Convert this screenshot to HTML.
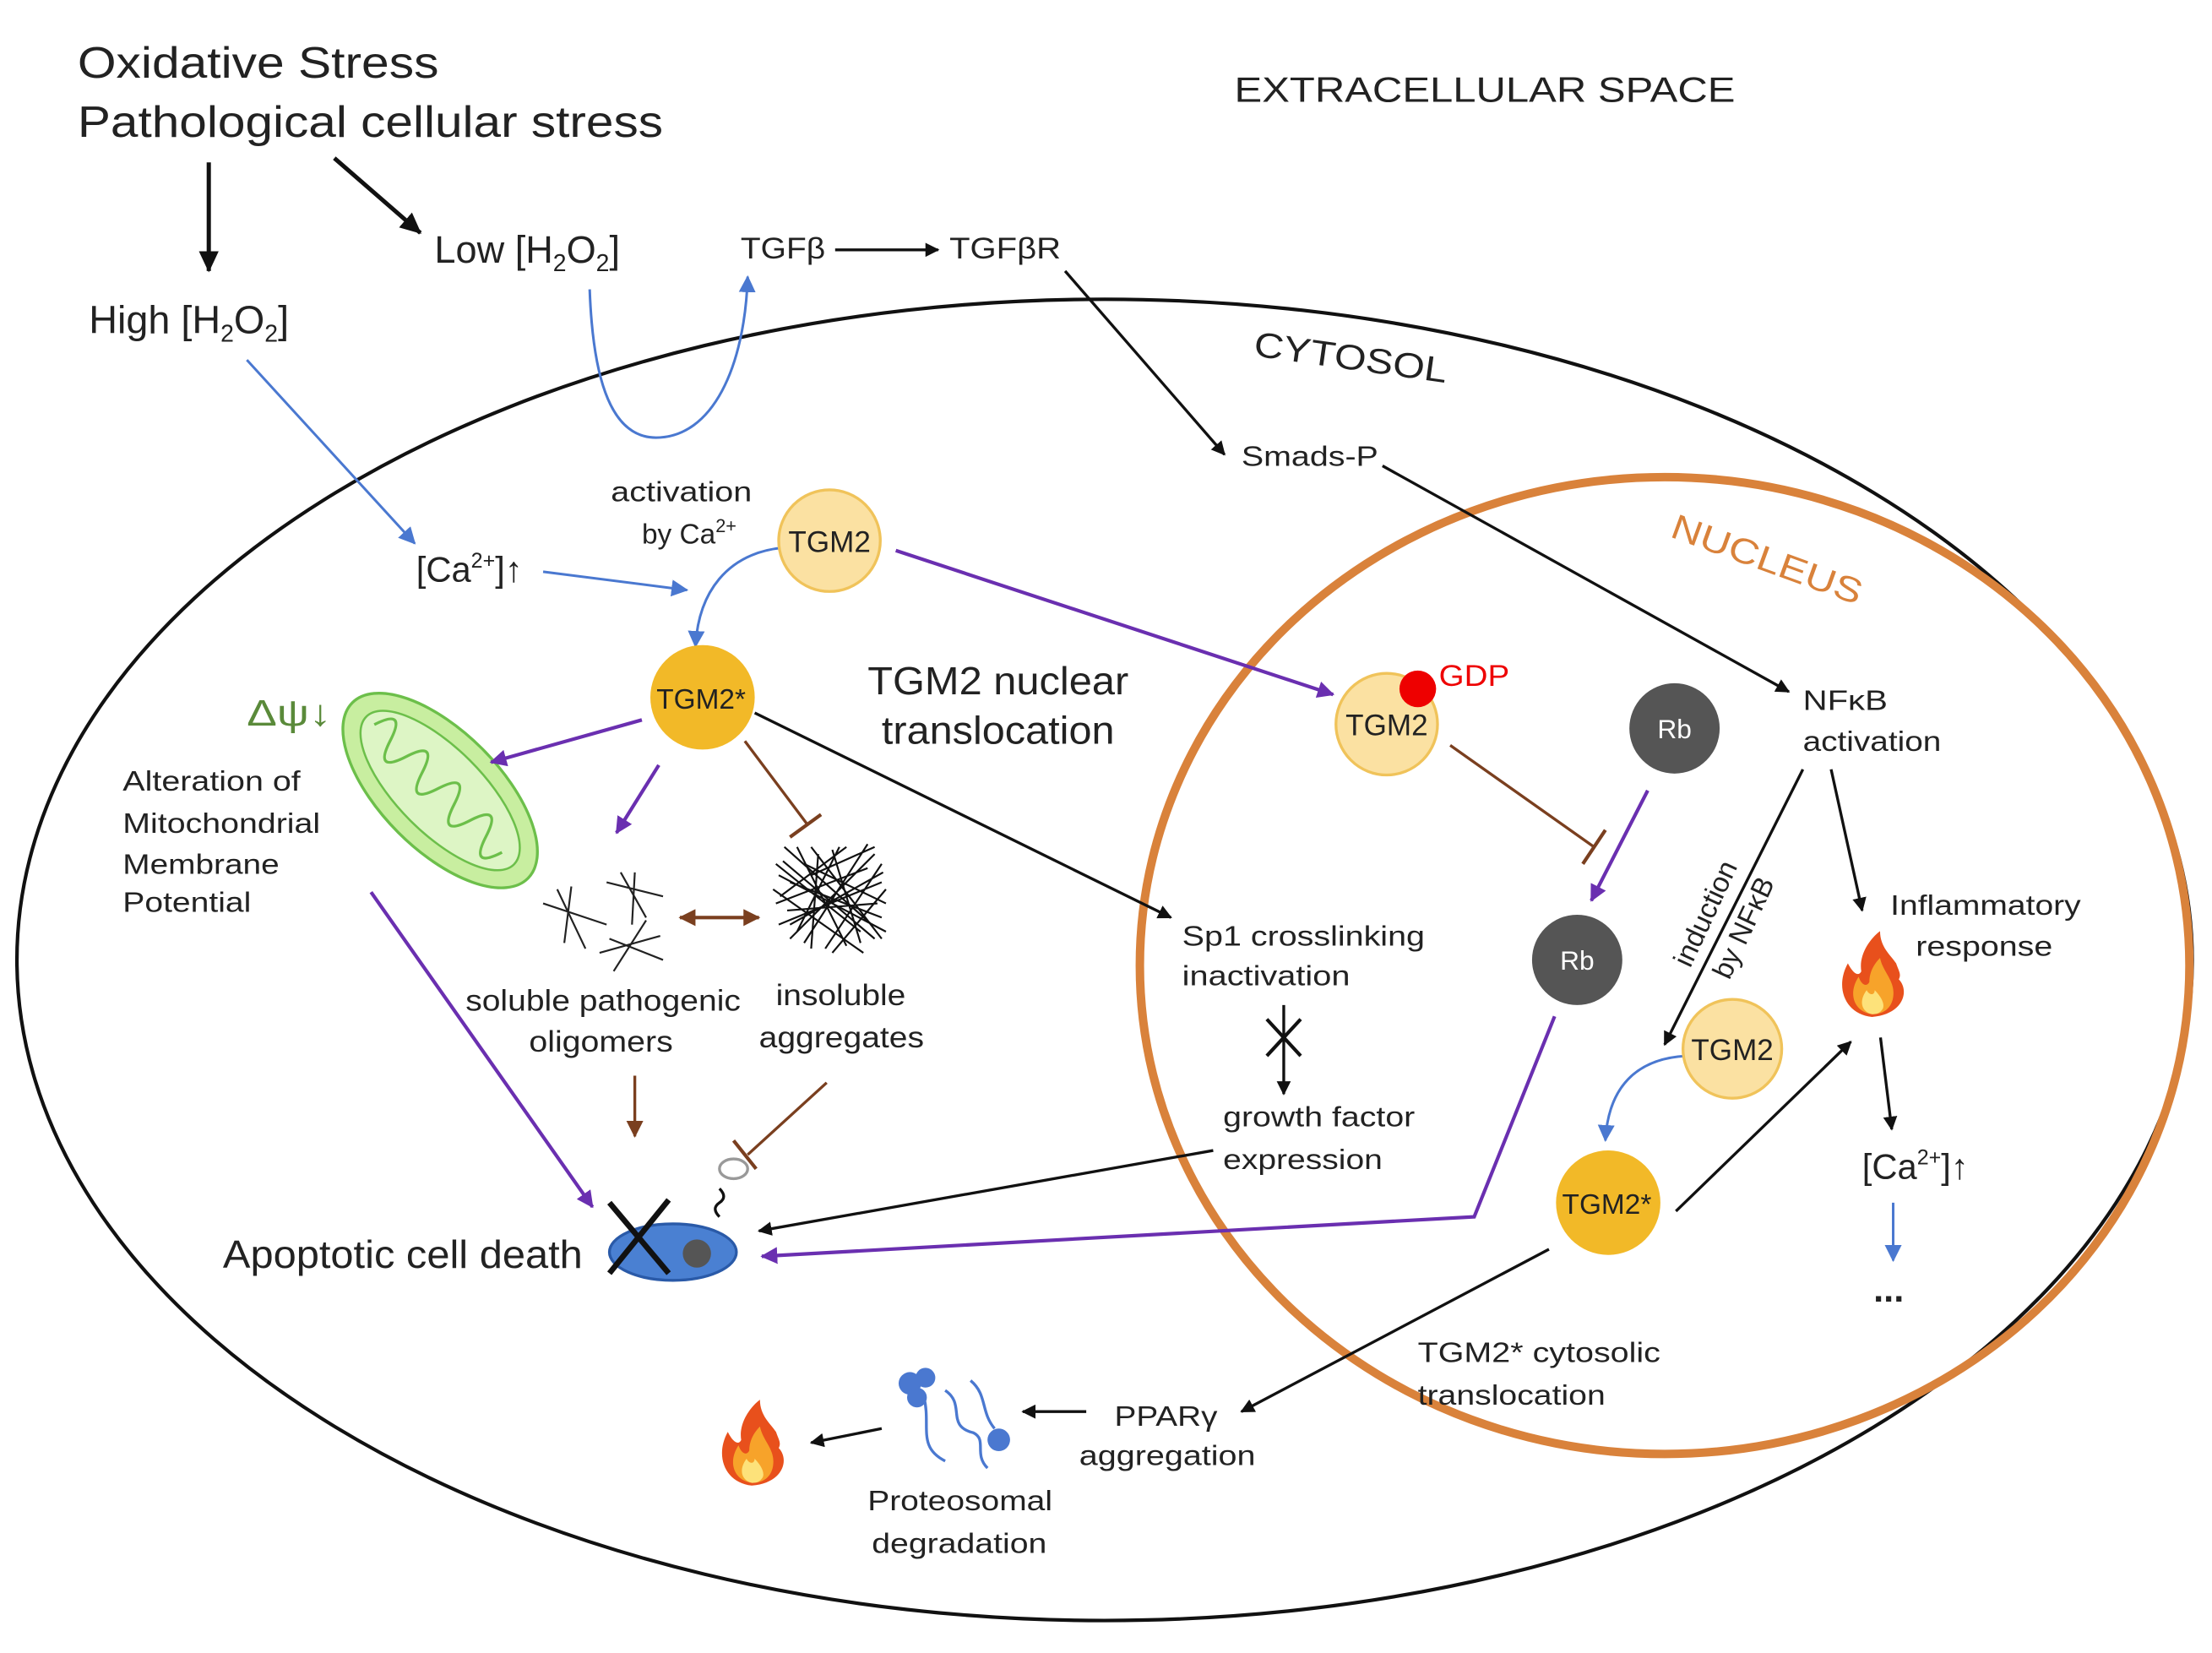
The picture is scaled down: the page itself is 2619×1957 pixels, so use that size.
<!DOCTYPE html>
<html><head><meta charset="utf-8"><style>
html,body{margin:0;padding:0;background:#fff;}
svg{display:block;}
text{font-family:"Liberation Sans",Arial,sans-serif;fill:#222;}
</style></head><body>
<svg width="2619" height="1957" viewBox="0 0 1568 1171" preserveAspectRatio="none" xmlns="http://www.w3.org/2000/svg">
<defs>
<marker id="ak" markerWidth="10" markerHeight="10" refX="9" refY="5" orient="auto" markerUnits="userSpaceOnUse"><path d="M0,0 L10,5 L0,10 z" fill="#111"/></marker>
<marker id="akb" markerWidth="16" markerHeight="16" refX="14" refY="8" orient="auto" markerUnits="userSpaceOnUse"><path d="M0,1 L15,8 L0,15 z" fill="#111"/></marker>
<marker id="ab" markerWidth="12" markerHeight="12" refX="11" refY="6" orient="auto" markerUnits="userSpaceOnUse"><path d="M0,0 L12,6 L0,12 z" fill="#4a78d0"/></marker>
<marker id="ap" markerWidth="12" markerHeight="12" refX="11" refY="6" orient="auto" markerUnits="userSpaceOnUse"><path d="M0,0 L12,6 L0,12 z" fill="#6a2fb0"/></marker>
<marker id="abr" markerWidth="12" markerHeight="12" refX="11" refY="6" orient="auto" markerUnits="userSpaceOnUse"><path d="M0,0 L12,6 L0,12 z" fill="#7a3f1f"/></marker>
<marker id="abrs" markerWidth="12" markerHeight="12" refX="1" refY="6" orient="auto" markerUnits="userSpaceOnUse"><path d="M12,0 L0,6 L12,12 z" fill="#7a3f1f"/></marker>
<g id="fire">
<path d="M0,32 C-20,30 -28,10 -18,-8 C-14,0 -10,2 -8,-2 C-10,-14 -2,-26 6,-32 C6,-20 14,-14 18,-8 C20,-2 22,0 20,4 C28,12 24,30 0,32 z" fill="#e8501c"/>
<path d="M0,30 C-14,28 -18,14 -10,2 C-8,8 -4,10 -2,6 C-2,-2 2,-8 6,-12 C8,-2 16,4 16,14 C16,24 10,30 0,30 z" fill="#f7a32a"/>
<path d="M0,30 C-8,28 -10,20 -4,12 C-2,16 2,16 2,12 C6,16 10,22 8,26 C6,29 4,30 0,30 z" fill="#fde27a"/>
</g>
</defs>

<ellipse cx="783" cy="680" rx="771" ry="468" fill="none" stroke="#111" stroke-width="2.5"/>
<ellipse cx="1180" cy="684" rx="372" ry="346" fill="none" stroke="#d9823b" stroke-width="6"/>

<text x="55" y="55" font-size="31" textLength="256" lengthAdjust="spacingAndGlyphs">Oxidative Stress</text>
<text x="55" y="97" font-size="31" textLength="415" lengthAdjust="spacingAndGlyphs">Pathological cellular stress</text>
<text x="875" y="72" font-size="25" textLength="355" lengthAdjust="spacingAndGlyphs">EXTRACELLULAR SPACE</text>

<line x1="148" y1="115" x2="148" y2="192" stroke="#111" stroke-width="3" marker-end="url(#akb)"/>
<line x1="237" y1="112" x2="298" y2="165" stroke="#111" stroke-width="3" marker-end="url(#akb)"/>
<text x="308" y="186" font-size="27">Low [H<tspan font-size="17" dy="6">2</tspan><tspan dy="-6">O</tspan><tspan font-size="17" dy="6">2</tspan><tspan dy="-6">]</tspan></text>
<text x="63" y="236" font-size="28">High [H<tspan font-size="17" dy="6">2</tspan><tspan dy="-6">O</tspan><tspan font-size="17" dy="6">2</tspan><tspan dy="-6">]</tspan></text>

<text x="525" y="183" font-size="21" textLength="60" lengthAdjust="spacingAndGlyphs">TGFβ</text>
<line x1="592" y1="177" x2="665" y2="177" stroke="#111" stroke-width="2" marker-end="url(#ak)"/>
<text x="673" y="183" font-size="21" textLength="79" lengthAdjust="spacingAndGlyphs">TGFβR</text>

<text x="888" y="252" font-size="25" transform="rotate(8 888 252)" textLength="138" lengthAdjust="spacingAndGlyphs">CYTOSOL</text>

<path d="M418,205 C420,260 430,310 465,310 C505,310 528,260 530,196" fill="none" stroke="#4a78d0" stroke-width="1.8" marker-end="url(#ab)"/>
<line x1="175" y1="255" x2="294" y2="385" stroke="#4a78d0" stroke-width="1.8" marker-end="url(#ab)"/>
<text x="295" y="412" font-size="25">[Ca<tspan font-size="15" dy="-10">2+</tspan><tspan dy="10">]↑</tspan></text>
<line x1="385" y1="405" x2="487" y2="418" stroke="#4a78d0" stroke-width="1.8" marker-end="url(#ab)"/>

<text x="433" y="355" font-size="20" textLength="100" lengthAdjust="spacingAndGlyphs">activation</text>
<text x="455" y="385" font-size="20">by Ca<tspan font-size="13" dy="-8">2+</tspan></text>

<line x1="755" y1="192" x2="868" y2="322" stroke="#111" stroke-width="2" marker-end="url(#ak)"/>
<text x="880" y="330" font-size="20" textLength="97" lengthAdjust="spacingAndGlyphs">Smads-P</text>
<line x1="980" y1="330" x2="1268" y2="490" stroke="#111" stroke-width="2" marker-end="url(#ak)"/>
<text x="1183" y="380" font-size="25" style="fill:#d9823b" transform="rotate(20 1183 380)" textLength="142" lengthAdjust="spacingAndGlyphs">NUCLEUS</text>
<text x="1278" y="503" font-size="20" textLength="60" lengthAdjust="spacingAndGlyphs">NFκB</text>
<text x="1278" y="532" font-size="20" textLength="98" lengthAdjust="spacingAndGlyphs">activation</text>

<path d="M555,388 C515,392 495,420 493,458" fill="none" stroke="#4a78d0" stroke-width="1.8" marker-end="url(#ab)"/>
<line x1="635" y1="390" x2="945" y2="492" stroke="#6a2fb0" stroke-width="2.5" marker-end="url(#ap)"/>
<circle cx="588" cy="383" r="36" fill="#fbe1a2" stroke="#f0c35a" stroke-width="2"/>
<text x="588" y="391" font-size="21" text-anchor="middle">TGM2</text>
<circle cx="498" cy="494" r="37" fill="#f2b928"/>
<text x="497" y="502" font-size="20" text-anchor="middle">TGM2*</text>

<text x="615" y="492" font-size="28" textLength="185" lengthAdjust="spacingAndGlyphs">TGM2 nuclear</text>
<text x="625" y="527" font-size="28" textLength="165" lengthAdjust="spacingAndGlyphs">translocation</text>

<circle cx="983" cy="513" r="36" fill="#fbe1a2" stroke="#f0c35a" stroke-width="2"/>
<text x="983" y="521" font-size="21" text-anchor="middle">TGM2</text>
<circle cx="1005" cy="488" r="13" fill="#e00"/>
<text x="1020" y="486" font-size="21" style="fill:#e00" textLength="50" lengthAdjust="spacingAndGlyphs">GDP</text>
<line x1="1028" y1="528" x2="1130" y2="600" stroke="#7a3f1f" stroke-width="2"/>
<line x1="1122" y1="612" x2="1138" y2="588" stroke="#7a3f1f" stroke-width="2.5"/>

<circle cx="1187" cy="516" r="32" fill="#555"/>
<text x="1187" y="523" font-size="19" text-anchor="middle" style="fill:#fff">Rb</text>
<line x1="1168" y1="560" x2="1128" y2="638" stroke="#6a2fb0" stroke-width="2.5" marker-end="url(#ap)"/>
<circle cx="1118" cy="680" r="32" fill="#555"/>
<text x="1118" y="687" font-size="19" text-anchor="middle" style="fill:#fff">Rb</text>

<g transform="rotate(45 312 560)">
<ellipse cx="312" cy="560" rx="88" ry="42" fill="#c8eea0" stroke="#6cbf4a" stroke-width="2"/>
<ellipse cx="312" cy="560" rx="74" ry="30" fill="#ddf5c5" stroke="#6cbf4a" stroke-width="1.5"/>
<path d="M246,560 q8,-25 16,0 q8,25 16,0 q8,-25 16,0 q8,25 16,0 q8,-25 16,0 q8,25 16,0 q8,-25 16,0 q8,25 16,0" fill="none" stroke="#6cbf4a" stroke-width="2"/>
</g>
<text x="175" y="514" font-size="26" style="fill:#5a8a3a" textLength="60" lengthAdjust="spacingAndGlyphs">Δψ↓</text>
<text x="87" y="560" font-size="20" textLength="126" lengthAdjust="spacingAndGlyphs">Alteration of</text>
<text x="87" y="590" font-size="20" textLength="140" lengthAdjust="spacingAndGlyphs">Mitochondrial</text>
<text x="87" y="619" font-size="20" textLength="111" lengthAdjust="spacingAndGlyphs">Membrane</text>
<text x="87" y="646" font-size="20" textLength="91" lengthAdjust="spacingAndGlyphs">Potential</text>

<line x1="455" y1="510" x2="348" y2="540" stroke="#6a2fb0" stroke-width="2.5" marker-end="url(#ap)"/>
<line x1="467" y1="542" x2="437" y2="590" stroke="#6a2fb0" stroke-width="2.5" marker-end="url(#ap)"/>
<line x1="528" y1="525" x2="573" y2="585" stroke="#7a3f1f" stroke-width="2"/>
<line x1="560" y1="593" x2="582" y2="577" stroke="#7a3f1f" stroke-width="2.5"/>
<line x1="535" y1="505" x2="830" y2="650" stroke="#111" stroke-width="2" marker-end="url(#ak)"/>

<g stroke="#222" stroke-width="1.3">
<line x1="385" y1="640" x2="430" y2="655"/><line x1="395" y1="630" x2="415" y2="672"/><line x1="405" y1="628" x2="400" y2="668"/>
<line x1="430" y1="625" x2="470" y2="635"/><line x1="440" y1="618" x2="458" y2="650"/><line x1="450" y1="618" x2="448" y2="655"/>
<line x1="425" y1="675" x2="468" y2="663"/><line x1="435" y1="688" x2="458" y2="652"/><line x1="432" y1="665" x2="470" y2="680"/>
</g>
<g stroke="#111" stroke-width="1.3">
<path d="M555,610 L620,665 M560,625 L625,650 M550,640 L615,615 M565,600 L600,670 M580,605 L575,672 M590,602 L610,668 M552,655 L625,625 M560,665 L620,605 M570,612 L628,640 M548,630 L612,675 M575,620 L620,600 M565,660 L595,600 M556,600 L618,655 M585,672 L625,612 M552,620 L628,660 M558,645 L622,640 M570,668 L615,598 M550,612 L610,660 M575,600 L625,665 M560,655 L626,618 M553,635 L600,600 M590,675 L628,630"/>
</g>
<line x1="482" y1="650" x2="538" y2="650" stroke="#7a3f1f" stroke-width="2.5" marker-start="url(#abrs)" marker-end="url(#abr)"/>
<text x="330" y="716" font-size="21" textLength="195" lengthAdjust="spacingAndGlyphs">soluble pathogenic</text>
<text x="375" y="745" font-size="21" textLength="102" lengthAdjust="spacingAndGlyphs">oligomers</text>
<text x="550" y="712" font-size="21" textLength="92" lengthAdjust="spacingAndGlyphs">insoluble</text>
<text x="538" y="742" font-size="21" textLength="117" lengthAdjust="spacingAndGlyphs">aggregates</text>
<line x1="450" y1="762" x2="450" y2="805" stroke="#7a3f1f" stroke-width="2" marker-end="url(#abr)"/>
<line x1="586" y1="767" x2="530" y2="818" stroke="#7a3f1f" stroke-width="2"/>
<line x1="520" y1="808" x2="536" y2="828" stroke="#7a3f1f" stroke-width="2.5"/>

<line x1="263" y1="632" x2="420" y2="855" stroke="#6a2fb0" stroke-width="2.5" marker-end="url(#ap)"/>

<text x="158" y="898" font-size="28" textLength="255" lengthAdjust="spacingAndGlyphs">Apoptotic cell death</text>
<ellipse cx="477" cy="887" rx="45" ry="20" fill="#4a80d2" stroke="#2a5aa8" stroke-width="2"/>
<circle cx="494" cy="888" r="10" fill="#555"/>
<line x1="432" y1="852" x2="474" y2="902" stroke="#111" stroke-width="4"/>
<line x1="474" y1="850" x2="432" y2="902" stroke="#111" stroke-width="4"/>
<path d="M510,862 q-6,-6 0,-10 q6,-4 0,-10" fill="none" stroke="#111" stroke-width="2"/>
<ellipse cx="520" cy="828" rx="10" ry="7" fill="none" stroke="#999" stroke-width="2"/>

<text x="838" y="670" font-size="20" textLength="172" lengthAdjust="spacingAndGlyphs">Sp1 crosslinking</text>
<text x="838" y="698" font-size="20" textLength="119" lengthAdjust="spacingAndGlyphs">inactivation</text>
<line x1="910" y1="712" x2="910" y2="775" stroke="#111" stroke-width="2" marker-end="url(#ak)"/>
<line x1="898" y1="722" x2="922" y2="748" stroke="#111" stroke-width="2.5"/>
<line x1="922" y1="722" x2="898" y2="748" stroke="#111" stroke-width="2.5"/>
<text x="867" y="798" font-size="20" textLength="136" lengthAdjust="spacingAndGlyphs">growth factor</text>
<text x="867" y="828" font-size="20" textLength="113" lengthAdjust="spacingAndGlyphs">expression</text>
<line x1="860" y1="815" x2="538" y2="872" stroke="#111" stroke-width="2" marker-end="url(#ak)"/>
<polyline points="1102,720 1045,862 540,890" fill="none" stroke="#6a2fb0" stroke-width="2.5" marker-end="url(#ap)"/>

<text x="1215" y="650" font-size="20" text-anchor="middle" transform="rotate(-65 1215 650)">induction</text>
<text x="1242" y="660" font-size="20" text-anchor="middle" transform="rotate(-65 1242 660)">by NFκB</text>
<line x1="1278" y1="545" x2="1180" y2="740" stroke="#111" stroke-width="2" marker-end="url(#ak)"/>
<line x1="1298" y1="545" x2="1320" y2="645" stroke="#111" stroke-width="2" marker-end="url(#ak)"/>
<text x="1340" y="648" font-size="20" textLength="135" lengthAdjust="spacingAndGlyphs">Inflammatory</text>
<text x="1358" y="677" font-size="20" textLength="97" lengthAdjust="spacingAndGlyphs">response</text>
<use href="#fire" transform="translate(1327,690) scale(0.95)"/>

<path d="M1195,748 C1160,750 1140,770 1138,808" fill="none" stroke="#4a78d0" stroke-width="1.8" marker-end="url(#ab)"/>
<circle cx="1228" cy="743" r="35" fill="#fbe1a2" stroke="#f0c35a" stroke-width="2"/>
<text x="1228" y="751" font-size="21" text-anchor="middle">TGM2</text>
<circle cx="1140" cy="852" r="37" fill="#f2b928"/>
<text x="1139" y="860" font-size="20" text-anchor="middle">TGM2*</text>
<line x1="1188" y1="858" x2="1312" y2="738" stroke="#111" stroke-width="2" marker-end="url(#ak)"/>
<line x1="1333" y1="735" x2="1341" y2="800" stroke="#111" stroke-width="2" marker-end="url(#ak)"/>
<text x="1320" y="835" font-size="25">[Ca<tspan font-size="15" dy="-10">2+</tspan><tspan dy="10">]↑</tspan></text>
<line x1="1342" y1="852" x2="1342" y2="893" stroke="#4a78d0" stroke-width="1.8" marker-end="url(#ab)"/>
<text x="1328" y="922" font-size="26" font-weight="bold">...</text>

<line x1="1098" y1="885" x2="880" y2="1000" stroke="#111" stroke-width="2" marker-end="url(#ak)"/>
<text x="1005" y="965" font-size="20" textLength="172" lengthAdjust="spacingAndGlyphs">TGM2* cytosolic</text>
<text x="1005" y="995" font-size="20" textLength="133" lengthAdjust="spacingAndGlyphs">translocation</text>
<text x="790" y="1010" font-size="20" textLength="73" lengthAdjust="spacingAndGlyphs">PPARγ</text>
<text x="765" y="1038" font-size="20" textLength="125" lengthAdjust="spacingAndGlyphs">aggregation</text>
<line x1="770" y1="1000" x2="725" y2="1000" stroke="#111" stroke-width="2" marker-end="url(#ak)"/>
<g fill="#4a78d0">
<circle cx="645" cy="980" r="8"/><circle cx="656" cy="976" r="7"/><circle cx="650" cy="990" r="7"/><circle cx="708" cy="1020" r="8"/>
</g>
<path d="M655,990 C660,1010 650,1025 670,1035 M670,985 C685,995 670,1010 690,1015 C700,1020 690,1030 700,1040 M688,978 C700,988 695,1000 705,1012" fill="none" stroke="#4a78d0" stroke-width="2"/>
<text x="615" y="1070" font-size="20" textLength="131" lengthAdjust="spacingAndGlyphs">Proteosomal</text>
<text x="618" y="1100" font-size="20" textLength="124" lengthAdjust="spacingAndGlyphs">degradation</text>
<line x1="625" y1="1012" x2="575" y2="1022" stroke="#111" stroke-width="2" marker-end="url(#ak)"/>
<use href="#fire" transform="translate(533,1022) scale(0.95)"/>
</svg>
</body></html>
